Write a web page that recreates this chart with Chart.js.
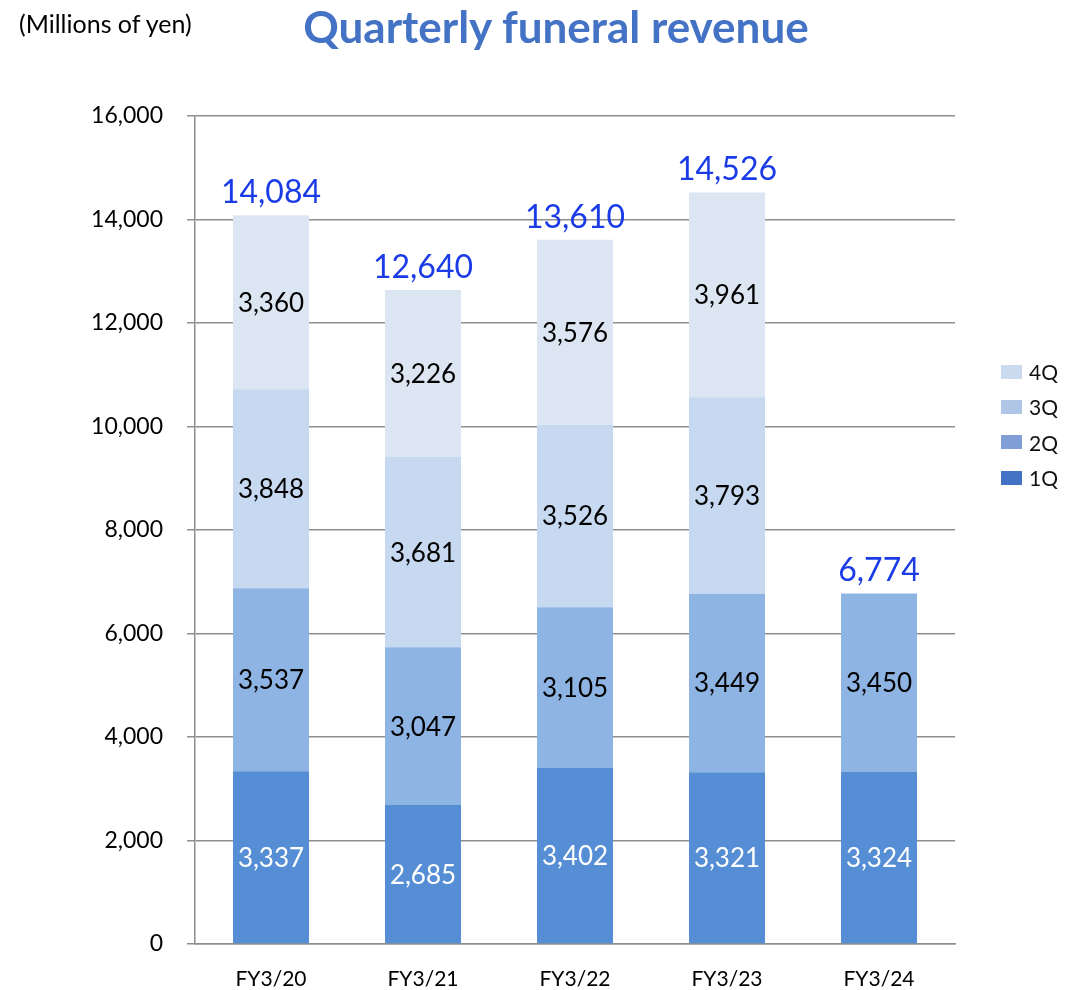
<!DOCTYPE html>
<html>
<head>
<meta charset="utf-8">
<script src="https://cdn.jsdelivr.net/npm/chart.js@4.4.1/dist/chart.umd.min.js"></script>
<style>
  html, body { margin: 0; padding: 0; background: #fff; }
  #wrap { position: relative; width: 1067px; height: 990px; overflow: hidden; }
  #unit { position: absolute; left: 19px; top: 8px; font: 25px Lato, sans-serif; color: #000; }
  #title { position: absolute; left: 0; width: 1112px; top: 0px; text-align: center; font: bold 44px Lato, sans-serif; color: #4472C4; }
  #legend { position: absolute; left: 1001px; top: 354px; font: 21px Lato, sans-serif; color: #111; }
  .li { height: 35.3px; display: flex; align-items: center; }
  .sw { width: 21px; height: 14px; margin-right: 7px; }
  canvas { position: absolute; left: 0; top: 0; }
</style>
</head>
<body>
<div id="wrap">
  <canvas id="c" width="1067" height="990"></canvas>
  <div id="unit">(Millions of yen)</div>
  <div id="title">Quarterly funeral revenue</div>
  <div id="legend"></div>
</div>
<script>
const categories = ["FY3/20", "FY3/21", "FY3/22", "FY3/23", "FY3/24"];
const q1 = [3337, 2685, 3402, 3321, 3324];
const q2 = [3537, 3047, 3105, 3449, 3450];
const q3 = [3848, 3681, 3526, 3793, null];
const q4 = [3360, 3226, 3576, 3961, null];
const totals = [14084, 12640, 13610, 14526, 6774];
const seriesNames = ["1Q", "2Q", "3Q", "4Q"];
const barColors = ["#558ED5", "#8EB4E3", "#C6D9F1", "#DCE6F2"];
const legendColors = ["#4472C4", "#7F9FD6", "#B0C6E6", "#CBDAEE"];
const labelColors = ["#FFFFFF", "#000000", "#000000", "#000000"];
const yTicks = [0, 2000, 4000, 6000, 8000, 10000, 12000, 14000, 16000];

const fmt = v => v.toLocaleString("en-US");

const labelPlugin = {
  id: "labels",
  afterDatasetsDraw(chart) {
    const ctx = chart.ctx;
    ctx.save();
    ctx.textAlign = "center";
    chart.data.datasets.forEach((ds, di) => {
      const meta = chart.getDatasetMeta(di);
      ctx.font = "26px Lato, sans-serif";
      ctx.fillStyle = labelColors[di];
      ctx.textBaseline = "middle";
      meta.data.forEach((el, i) => {
        const v = ds.data[i];
        if (v === null || v === undefined) return;
        ctx.fillText(fmt(v), el.x, (el.y + el.base) / 2 + 1);
      });
    });
    // totals
    ctx.font = "32px Lato, sans-serif";
    ctx.fillStyle = "#1A3BE6";
    ctx.textBaseline = "alphabetic";
    totals.forEach((t, i) => {
      let top = null, x = null;
      chart.data.datasets.forEach((ds, di) => {
        const v = ds.data[i];
        if (v === null || v === undefined) return;
        const el = chart.getDatasetMeta(di).data[i];
        if (top === null || el.y < top) { top = el.y; x = el.x; }
      });
      ctx.fillText(fmt(t), x, top - 12);
    });
    ctx.restore();
  }
};

const seriesData = [q1, q2, q3, q4];
new Chart(document.getElementById("c"), {
  type: "bar",
  data: {
    labels: categories,
    datasets: seriesData.map((d, i) => ({
      label: seriesNames[i],
      data: d,
      backgroundColor: barColors[i],
      borderWidth: 0,
      barPercentage: 1,
      categoryPercentage: 0.5
    }))
  },
  options: {
    responsive: false,
    animation: false,
    devicePixelRatio: 1,
    layout: { padding: { top: 116, right: 112, left: 0, bottom: 0 } },
    plugins: { legend: { display: false }, tooltip: { enabled: false } },
    scales: {
      x: {
        stacked: true,
        grid: { display: false, drawTicks: false },
        border: { display: true, color: "#8E8E8E", width: 1.5 },
        ticks: { color: "#000", font: { family: "Lato", size: 21 }, padding: 23 },
        afterFit(s) { s.height = 46; }
      },
      y: {
        stacked: true,
        min: 0, max: 16000,
        afterBuildTicks(s) { s.ticks = yTicks.map(v => ({ value: v })); },
        grid: { color: "#8E8E8E", lineWidth: 1.5, tickLength: 8 },
        border: { display: true, color: "#8E8E8E", width: 1.5 },
        ticks: { color: "#000", font: { family: "Lato", size: 23 }, padding: 24, callback: v => fmt(v) },
        afterFit(s) { s.width = 195; }
      }
    }
  },
  plugins: [labelPlugin]
});

const lg = document.getElementById("legend");
for (let i = seriesNames.length - 1; i >= 0; i--) {
  const row = document.createElement("div");
  row.className = "li";
  const sw = document.createElement("div");
  sw.className = "sw";
  sw.style.background = legendColors[i];
  const tx = document.createElement("span");
  tx.textContent = seriesNames[i];
  row.appendChild(sw); row.appendChild(tx);
  lg.appendChild(row);
}
</script>
</body>
</html>
